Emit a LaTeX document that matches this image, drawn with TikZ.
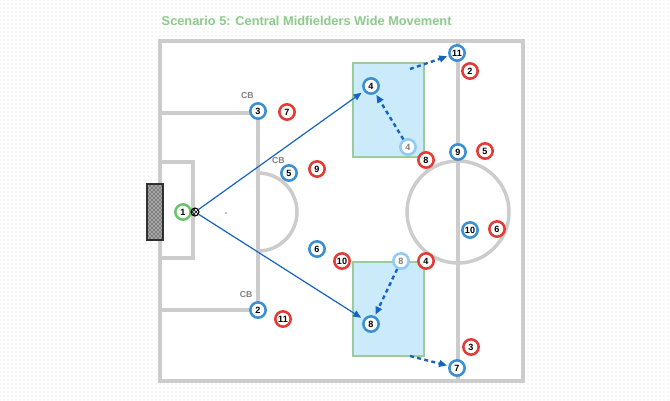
\documentclass[tikz,border=0pt]{standalone}
\usepackage{fontspec}
\setmainfont{Liberation Sans}
\usetikzlibrary{positioning,arrows.meta,patterns,calc}

\definecolor{lineGray}{HTML}{CCCCCC}
\definecolor{homeBlue}{HTML}{3A8FD1}
\definecolor{awayRed}{HTML}{E53935}
\definecolor{keeperGreen}{HTML}{6CC36C}
\definecolor{ghostBlue}{HTML}{90CAF9}
\definecolor{zoneFill}{HTML}{CCEBFA}
\definecolor{zoneEdge}{HTML}{9CCC9C}
\definecolor{passBlue}{HTML}{1565C0}
\definecolor{titleGreen}{HTML}{8DCB8D}

\begin{document}
\begin{tikzpicture}[x=0.75pt,y=-0.75pt,
			player/.style={circle, draw, line width=1.9pt, fill=white, minimum size=11.5pt, inner sep=0pt, font=\fontsize{6.8}{7}\selectfont\bfseries},
			home/.style={player, draw=homeBlue},
			away/.style={player, draw=awayRed},
			keeper/.style={player, draw=keeperGreen},
			ghost/.style={player, draw=ghostBlue, text=gray},
			tag/.style={text=gray, font=\fontsize{6.5}{7}\selectfont\bfseries},
			marking/.style={draw=lineGray, line width=2.6pt},
			zone/.style={draw=zoneEdge, fill=zoneFill, line width=1.3pt},
			pass/.style={-{Triangle[length=6pt,width=5pt]}, passBlue, line width=0.9pt},
			run/.style={-{Triangle[length=6pt,width=5pt]}, passBlue, line width=1.8pt, dash pattern=on 3pt off 2.5pt}]
			% background
			\fill[white] (0,0) rectangle (670,400);
			\fill[pattern=dots, pattern color=gray!25] (0,0) rectangle (670,400);
			\fill[white] (160,41) rectangle (523,381);
			\node[anchor=west, text=titleGreen, font=\fontsize{9.6}{11}\selectfont\bfseries] (title) at (157,21) {Scenario 5: Central Midfielders Wide Movement};
			
			% pitch
			\draw[marking] (160,41) rectangle (523,381);
			\draw[marking] (160,113) -| (258,310) -- (160,310);
			\draw[marking] (160,162) -| (193,258) -- (160,258);
			\draw[marking] (258,173) arc[start angle=-90, end angle=90, radius=39];
			\draw[marking] (458,41) -- (458,381);
			\draw[marking] (458,212) circle[radius=51];
			\draw[black!80, line width=1.5pt, fill=gray!70, postaction={pattern=crosshatch dots, pattern color=black}] (147,184) rectangle (163,240);
			\fill[gray] (226,213) circle[radius=0.8];
			
			% zones
			\draw[zone] (353,63) rectangle (424,157);
			\draw[zone] (353,262) rectangle (424,356);
			
			% players
			\node[keeper] (k1) at (183,212) {1};
			\node[circle, draw=black, fill=white, line width=0.8pt, minimum size=6pt, inner sep=0pt, pattern=crosshatch, pattern color=black] (ball) at (195,212) {};
			\node[home] (b3) at (258,111) {3};
			\node[tag, above left=1pt and -5pt of b3] {CB};
			\node[home] (b5) at (289,173) {5};
			\node[tag, above left=-1pt and -5pt of b5] {CB};
			\node[home] (b2) at (258,310) {2};
			\node[tag, above left=1pt and -4pt of b2] {CB};
			\node[home] (b6) at (317,249) {6};
			\node[home] (b4) at (371,86) {4};
			\node[ghost] (f4) at (408,147) {4};
			\node[home] (b8) at (371,324) {8};
			\node[ghost] (f8) at (401,261) {8};
			\node[home] (b11) at (457,53) {11};
			\node[home] (b9) at (458,152) {9};
			\node[home] (b10) at (470,230) {10};
			\node[home] (b7) at (457,368) {7};
			
			\node[away] (r7) at (287,112) {7};
			\node[away] (r9) at (317,169) {9};
			\node[away] (r10) at (342,261) {10};
			\node[away] (r11) at (283,319) {11};
			\node[away] (r8) at (426,160) {8};
			\node[away] (r4) at (426,261) {4};
			\node[away] (r2) at (470,71) {2};
			\node[away] (r5) at (485,151) {5};
			\node[away] (r6) at (497,229) {6};
			\node[away] (r3) at (471,347) {3};
			
			% passes and runs
			\coordinate (topexit) at (410,69);
			\coordinate (botexit) at (410,356);
			\draw[pass, shorten >=2pt] (ball) -- (b4);
			\draw[pass, shorten >=2pt] (ball) -- (b8);
			\draw[run, shorten >=1pt] (f4) -- (b4);
			\draw[run, shorten >=1pt] (f8) -- (b8);
			\draw[run, shorten >=1pt] (topexit) -- (b11);
			\draw[run, shorten >=1pt] (botexit) -- (b7);
		\end{tikzpicture}
\end{document}
